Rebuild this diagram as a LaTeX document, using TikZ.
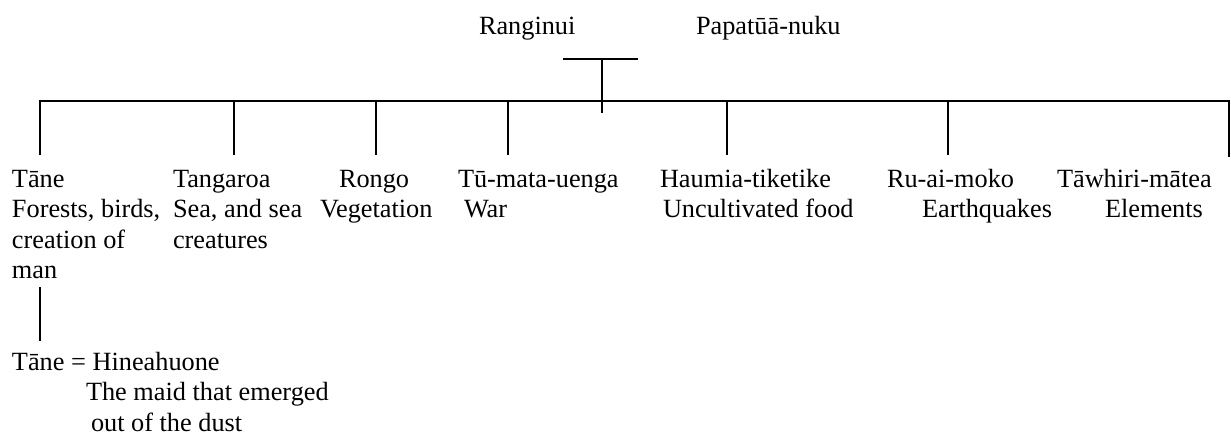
\documentclass[tikz,border=0pt]{standalone}
\usepackage{fontspec}
\setmainfont{Liberation Serif}
\begin{document}
\begin{tikzpicture}[x=1pt,y=-1pt,line width=1.4pt,
  lbl/.style={inner sep=0pt,outer sep=0pt,anchor=base west,align=left,
    font=\fontsize{26.3}{30.5}\selectfont}]
\useasboundingbox (0,0) rectangle (1231,436);
% parents
\node[lbl] (rang) at (479,35) {Ranginui};
\node[lbl] (papa) at (696,35) {Papatūā-nuku};
% children (anchor = baseline of the last line)
\node[lbl] (tane) at (12,278.5) {Tāne\\Forests, birds,\\creation of\\man};
\node[lbl] (tang) at (173,248) {Tangaroa\\Sea, and sea\\creatures};
\node[lbl] (rongo) at (320,217.5) {\hspace*{19pt}Rongo\\Vegetation};
\node[lbl] (tu) at (458,217.5) {Tū-mata-uenga\\\hspace*{6pt}War};
\node[lbl] (haum) at (660,217.5) {Haumia-tiketike\\\hspace*{3pt}Uncultivated food};
\node[lbl] (ruai) at (887,217.5) {Ru-ai-moko\\\hspace*{35pt}Earthquakes};
\node[lbl] (tawh) at (1057,217.5) {Tāwhiri-mātea\\\hspace*{48pt}Elements};
% marriage
\node[lbl] (hine) at (12,431) {Tāne = Hineahuone\\\hspace*{74pt}The maid that emerged\\\hspace*{79pt}out of the dust};
% connector points
\coordinate (tl) at (563,59);
\coordinate (tr) at (638,59);
\coordinate (tm) at (602,59);
\coordinate (stem) at (602,113);
\coordinate (bl) at (40,101);
\coordinate (br) at (1229,101);
\coordinate (d1) at (40,155);
\coordinate (t2) at (234,101);   \coordinate (d2) at (234,155);
\coordinate (t3) at (376,101);   \coordinate (d3) at (376,155);
\coordinate (t4) at (508,101);   \coordinate (d4) at (508,155);
\coordinate (t5) at (727,101);   \coordinate (d5) at (727,155);
\coordinate (t6) at (948,101);   \coordinate (d6) at (948,155);
\coordinate (d7) at (1229,157);
\coordinate (m1) at (40,287);
\coordinate (m2) at (40,341);
% lines
\draw (tl) -- (tr);
\draw (tm) -- (stem);
\draw (d1) -- (bl) -- (br) -- (d7);
\draw (t2) -- (d2);
\draw (t3) -- (d3);
\draw (t4) -- (d4);
\draw (t5) -- (d5);
\draw (t6) -- (d6);
\draw (m1) -- (m2);
\end{tikzpicture}
\end{document}
